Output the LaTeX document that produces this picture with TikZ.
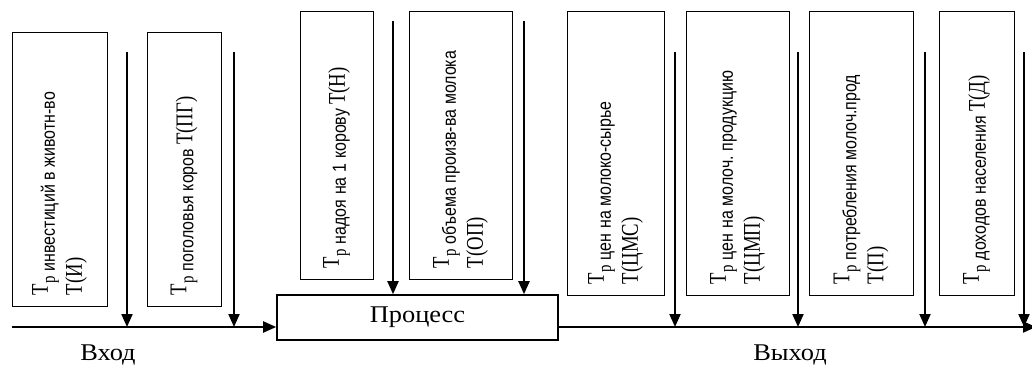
\documentclass[tikz,border=0pt]{standalone}
\usepackage{fontspec}
\setmainfont{Liberation Serif}
\newfontfamily\tallserif[FakeStretch=0.78]{Liberation Serif}
\newfontfamily\tallsans[FakeStretch=0.84]{Liberation Sans}
\newfontfamily\wideserif[FakeStretch=1.1]{Liberation Serif}
\usetikzlibrary{arrows.meta}
\frenchspacing
\newcommand{\tp}[1]{Т\raisebox{-7pt}{\fontsize{19}{20}\selectfont р\kern5pt\tallsans\spaceskip=0.25em #1}}

\begin{document}
\begin{tikzpicture}[x=1pt,y=-1pt]
\tikzstyle{box}=[rectangle,draw,line width=1pt,rotate=90,align=left,inner xsep=11pt,inner ysep=0pt,font=\tallserif\fontsize{24}{34}\selectfont]
\tikzstyle{arrow}=[-{Triangle[length=13pt,width=11pt]},line width=2pt]
\tikzstyle{iolabel}=[font=\wideserif\fontsize{24}{26}\selectfont]
\useasboundingbox (0,0) rectangle (1032,374);
\node (n1) [box,text width=251pt,minimum height=95pt] at (59.5,169.5) {\tp{инвестиций в животн-во}\\Т(И)};
\node (n2) [box,text width=251pt,minimum height=74pt] at (184,169.5) {\tp{поголовья коров}\,\raisebox{-6pt}{Т(ПГ)}};
\node (n3) [box,text width=245pt,minimum height=73pt] at (336.5,145.5) {\tp{надоя на 1 корову}\,\raisebox{-6pt}{Т(Н)}};
\node (n4) [box,text width=245pt,minimum height=103pt] at (460.5,145.5) {\tp{объема произв-ва молока}\\Т(ОП)};
\node (n5) [box,text width=261pt,minimum height=97pt] at (615.5,153.5) {\tp{цен на молоко-сырье}\\Т(ЦМС)};
\node (n6) [box,text width=261pt,minimum height=103pt] at (737.5,153.5) {\tp{цен на молоч. продукцию}\\Т(ЦМП)};
\node (n7) [box,text width=261pt,minimum height=104pt] at (861,153.5) {\tp{потребления молоч.прод}\\Т(П)};
\node (n8) [box,text width=261pt,minimum height=75pt] at (976.5,153.5) {\tp{доходов населения}\,\raisebox{-6pt}{Т(Д)}};
\node (n9) [rectangle,draw,line width=1.6pt,minimum width=281pt,minimum height=45pt,iolabel] at (417.5,317.5) {Процесс};
\node (n10) [iolabel] at (108,355) {Вход};
\node (n11) [iolabel] at (790,355) {Выход};
% main line
\coordinate (in) at (12,327);
\coordinate (out) at (1036,327);
\draw [arrow] (in) -- (in -| n9.west);
\draw [arrow] (n9.east |- in) -- (out);
% arrows down
\foreach \x [count=\i] in {127,234,675,798,925,1024} {
  \coordinate (s\i) at (\x,52);
  \draw [arrow] (s\i) -- (s\i |- in);
}
\foreach \x [count=\i] in {393,524} {
  \coordinate (t\i) at (\x,21);
  \draw [arrow] (t\i) -- (t\i |- n9.north);
}
\end{tikzpicture}
\end{document}
